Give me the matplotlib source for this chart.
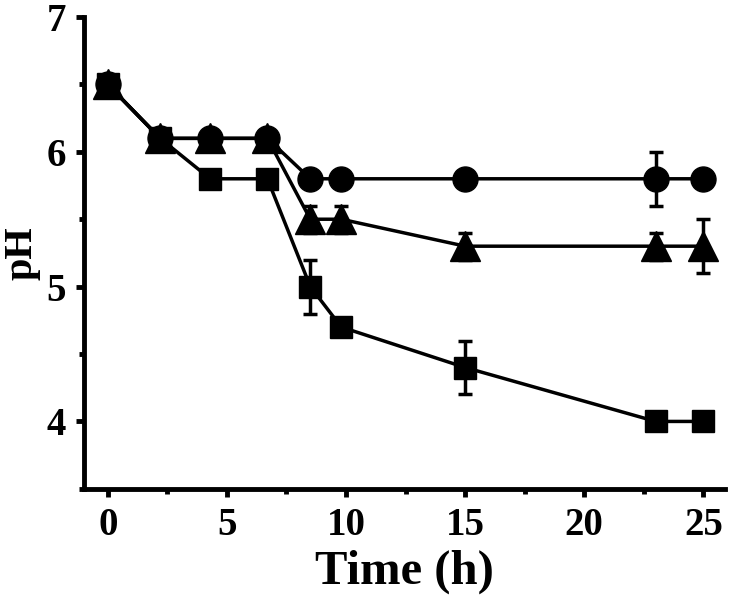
import matplotlib
matplotlib.use("Agg")
import matplotlib.pyplot as plt
from matplotlib.ticker import MultipleLocator

plt.rcParams['font.family'] = ['Liberation Serif', 'DejaVu Serif']
plt.rcParams['font.weight'] = 'bold'

time_h = [0, 2.2, 4.3, 6.7, 8.5, 9.8, 15, 23, 25]

circle_ph = [6.5, 6.1, 6.1, 6.1, 5.8, 5.8, 5.8, 5.8, 5.8]
circle_err = [0.03, 0.03, 0.03, 0.03, 0.03, 0.03, 0.03, 0.2, 0.04]

triangle_ph = [6.5, 6.1, 6.1, 6.1, 5.5, 5.5, 5.3, 5.3, 5.3]
triangle_err = [0.03, 0.03, 0.03, 0.03, 0.1, 0.1, 0.1, 0.1, 0.2]

square_ph = [6.5, 6.1, 5.8, 5.8, 5.0, 4.7, 4.4, 4.0, 4.0]
square_err = [0.03, 0.03, 0.04, 0.04, 0.2, 0.04, 0.2, 0.04, 0.04]

fig = plt.figure(figsize=(7.3, 6.08), dpi=100)
ax = fig.add_axes([0.115, 0.196, 0.878, 0.776])

common = dict(color='black', lw=2.5, elinewidth=2.5, capsize=5, capthick=2.5)
ax.errorbar(time_h, square_ph, yerr=square_err, marker='s', ms=16.5, **common)
ax.errorbar(time_h, triangle_ph, yerr=triangle_err, marker='^', ms=21, **common)
ax.errorbar(time_h, circle_ph, yerr=circle_err, marker='o', ms=18, **common)

ax.set_xlim(-1.0, 25.9)
ax.set_ylim(3.5, 7.0)
ax.xaxis.set_major_locator(MultipleLocator(5))
ax.xaxis.set_minor_locator(MultipleLocator(2.5))
ax.yaxis.set_major_locator(MultipleLocator(1))
ax.yaxis.set_minor_locator(MultipleLocator(0.5))

for s in ['top', 'right']:
    ax.spines[s].set_visible(False)
for s in ['left', 'bottom']:
    ax.spines[s].set_linewidth(3.5)

ax.tick_params(which='major', direction='out', length=6, width=3.5, labelsize=28, pad=7)
ax.tick_params(which='minor', direction='out', length=3.5, width=3.5)
for lab in ax.get_xticklabels() + ax.get_yticklabels():
    lab.set_fontweight('bold')

ax.set_xlabel('Time (h)', fontsize=35, fontweight='bold', labelpad=4)
ax.set_ylabel('pH', fontsize=29, fontweight='bold', labelpad=4)

fig.savefig('out.png', dpi=100)
